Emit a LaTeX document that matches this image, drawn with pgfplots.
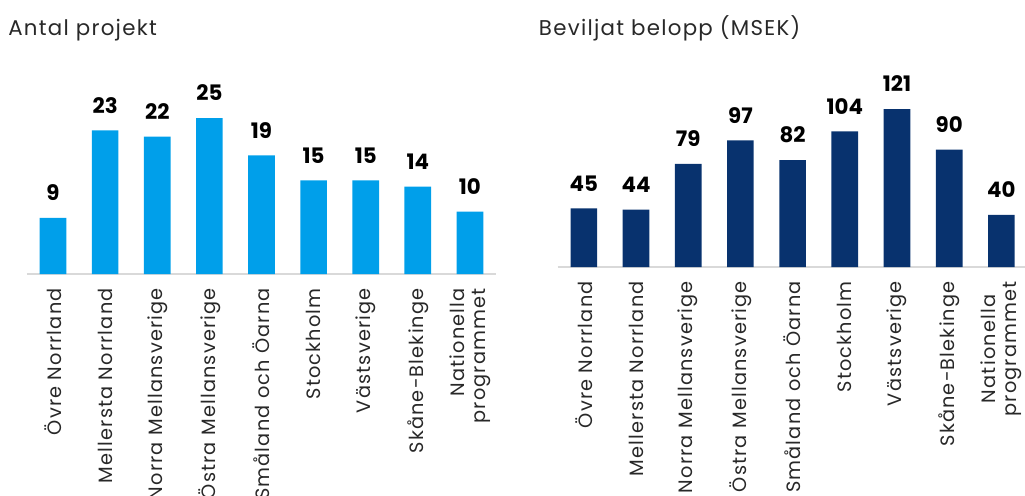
\documentclass[border=0pt]{standalone}
\usepackage{pgfplots}
\pgfplotsset{compat=1.18}
\usepackage{fontspec}
\setmainfont{Poppins}
\newfontfamily\tickfont{Poppins}[LetterSpace=6]
\newfontfamily\titlefont{Poppins}[LetterSpace=6]
\definecolor{lblue}{RGB}{0,159,234}
\definecolor{navy}{RGB}{8,50,110}
\definecolor{axgray}{RGB}{217,217,217}
\definecolor{txt}{RGB}{40,40,40}
\pgfplotsset{
  mybars/.style={
    scale only axis,
    ybar,
    bar width=20pt,
    xmin=-0.5, xmax=8.5,
    ymin=0,
    axis x line*=bottom,
    axis y line=none,
    x axis line style={draw=axgray, line width=1pt, -},
    xtick=data,
    major tick length=0pt,
    ytick=\empty,
    /pgf/number format/assume math mode=true,
    nodes near coords,
    every node near coord/.append style={font=\fontsize{16}{18}\selectfont\bfseries, text=black, anchor=south, inner sep=0pt, yshift=12.75pt},
    xticklabel style={font=\tickfont\fontsize{14.5}{15.5}\selectfont, text=txt, rotate=90, anchor=east, inner sep=0pt, xshift=-10.5pt},
    xticklabels={Övre Norrland, Mellersta Norrland, Norra Mellansverige, Östra Mellansverige, Småland och Öarna, Stockholm, Västsverige, Skåne-Blekinge, {Nationella\\programmet}},
    clip=false,
  }
}
\begin{document}
\begin{tikzpicture}
\begin{axis}[mybars,
  at={(20.25pt,-205.5pt)}, anchor=south west,
  width=351.75pt, height=140.4pt, ymax=30,
  xticklabel style={align=right},
]
\addplot[fill=lblue, draw=none] coordinates {(0,9) (1,23) (2,22) (3,25) (4,19) (5,15) (6,15) (7,14) (8,10)};
\end{axis}
\begin{axis}[mybars,
  at={(418.3pt,-200.25pt)}, anchor=south west,
  width=352.3pt, height=127.2pt, ymax=130,
  xticklabel style={align=center},
]
\addplot[fill=navy, draw=none] coordinates {(0,45) (1,44) (2,79) (3,97) (4,82) (5,104) (6,121) (7,90) (8,40)};
\end{axis}
\node[anchor=base west, inner sep=0pt, font=\titlefont\fontsize{16}{18}\selectfont, text=txt] at (6pt,-26.25pt) {Antal projekt};
\node[anchor=base west, inner sep=0pt, font=\titlefont\fontsize{16}{18}\selectfont, text=txt] at (404pt,-26.25pt) {Beviljat belopp (MSEK)};
\pgfresetboundingbox
\useasboundingbox (0,0) rectangle (768.75pt,-372pt);
\end{tikzpicture}
\end{document}
